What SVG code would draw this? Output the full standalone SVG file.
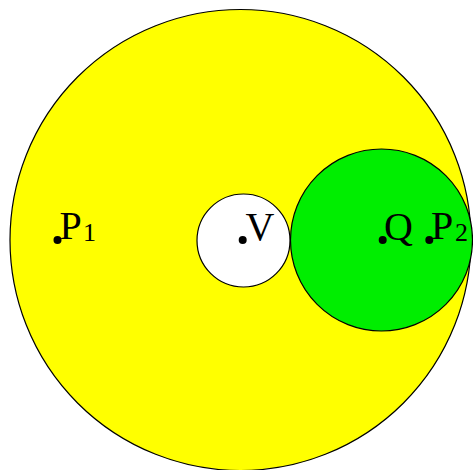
<svg xmlns="http://www.w3.org/2000/svg" width="473" height="470" viewBox="0 0 473 470">
<style>
.c{stroke:#000;stroke-width:1.2}
.d{fill:#000}
.t{font-family:"Liberation Serif","DejaVu Serif",serif;font-size:40px;fill:#000}
.s{font-family:"Liberation Serif","DejaVu Serif",serif;font-size:26px;fill:#000}
</style>
<rect width="473" height="470" fill="#fff"/>
<g id="outer"><circle class="c" cx="240.5" cy="240" r="230.5" fill="#ffff00"/></g>
<g id="green"><circle class="c" cx="381.5" cy="240" r="91" fill="#00ee00"/></g>
<g id="white"><circle class="c" cx="243.5" cy="240.5" r="46.5" fill="#fff"/></g>
<g id="P1"><circle class="d" cx="57.5" cy="240" r="4"/><text class="t" x="59.5" y="239">P</text><text class="s" x="83" y="241">1</text></g>
<g id="V"><circle class="d" cx="242.7" cy="240" r="4"/><text class="t" x="245.5" y="239.5">V</text></g>
<g id="Q"><circle class="d" cx="382.7" cy="240" r="4"/><text class="t" x="384" y="239.5">Q</text></g>
<g id="P2"><circle class="d" cx="429.3" cy="240" r="4"/><text class="t" x="431" y="239">P</text><text class="s" x="455" y="241">2</text></g>
<g id="connectors"></g>
</svg>
